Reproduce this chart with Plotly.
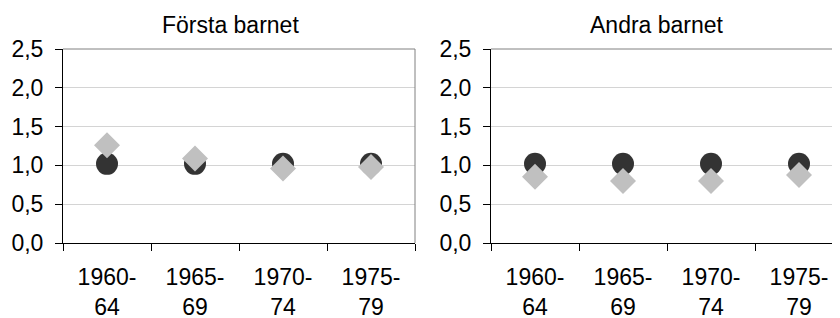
import plotly.graph_objects as go

categories = ["1960-<br>64", "1965-<br>69", "1970-<br>74", "1975-<br>79"]
titles = ["Första barnet", "Andra barnet"]
ref_first = [1.02, 1.02, 1.02, 1.02]
val_first = [1.26, 1.09, 0.96, 0.98]
ref_second = [1.02, 1.02, 1.02, 1.02]
val_second = [0.855, 0.80, 0.80, 0.875]
y_ticks = [0, 0.5, 1.0, 1.5, 2.0, 2.5]
y_ticktext = ["0,0", "0,5", "1,0", "1,5", "2,0", "2,5"]

# the page body adds an 8px offset; the figure fills the rest of the window
OFF = 8
W, H = 840 - OFF, 318 - OFF
FONT = "Liberation Sans, Arial, sans-serif"
fig = go.Figure()

panels = [
    ("x", "y", ref_first, val_first),
    ("x2", "y2", ref_second, val_second),
]
for xa, ya, ref, val in panels:
    fig.add_trace(go.Scatter(x=categories, y=ref, mode="markers", xaxis=xa, yaxis=ya,
                             marker=dict(symbol="circle", size=22, color="#333333",
                                         line=dict(width=0)), showlegend=False))
    fig.add_trace(go.Scatter(x=categories, y=val, mode="markers", xaxis=xa, yaxis=ya,
                             marker=dict(symbol="diamond", size=20, color="#c0c0c0",
                                         line=dict(width=0)), showlegend=False))


def px_x(v):
    return (v - OFF) / W


def px_y(v):
    return 1 - (v - OFF) / H


ydom = [px_y(243), px_y(49)]
common_x = dict(type="category", tickson="boundaries", ticks="outside", ticklen=7,
                tickcolor="#000", showline=True, linecolor="#000", linewidth=1,
                showgrid=False, zeroline=False, automargin=False, ticklabelstandoff=13,
                tickfont=dict(family=FONT, size=23, color="#000"))
common_y = dict(range=[0, 2.5], tickvals=y_ticks, ticktext=y_ticktext, ticks="outside",
                ticklen=7, tickcolor="#000", showline=True, linecolor="#000", linewidth=1,
                showgrid=True, gridcolor="#d4d4d4", gridwidth=1, zeroline=False,
                automargin=False, ticklabelstandoff=7,
                tickfont=dict(family=FONT, size=23, color="#000"))

fig.update_layout(
    width=W, height=H, margin=dict(l=0, r=0, t=0, b=0),
    paper_bgcolor="white", plot_bgcolor="white",
    xaxis=dict(domain=[px_x(63), px_x(415)], range=[-0.5, 3.5], anchor="y", **common_x),
    yaxis=dict(domain=ydom, anchor="x", **common_y),
    xaxis2=dict(domain=[px_x(491), 1.0], range=[-0.5, -0.5 + 349 / 88], anchor="y2", **common_x),
    yaxis2=dict(domain=ydom, anchor="x2", **common_y),
)

# plot-area borders (top and right) in grey
fig.add_shape(type="line", xref="x domain", yref="y domain", x0=0, x1=1, y0=1, y1=1,
              line=dict(color="#808080", width=1))
fig.add_shape(type="line", xref="x domain", yref="y domain", x0=1, x1=1, y0=0, y1=1,
              line=dict(color="#808080", width=1))
fig.add_shape(type="line", xref="x2 domain", yref="y2 domain", x0=0, x1=1, y0=1, y1=1,
              line=dict(color="#808080", width=1))

for t, cx in zip(titles, [230, 657]):
    fig.add_annotation(text=t, xref="paper", yref="paper", x=px_x(cx), y=px_y(25),
                       showarrow=False, xanchor="center", yanchor="middle",
                       font=dict(family=FONT, size=23, color="#000"))

fig.write_html("out.html")
